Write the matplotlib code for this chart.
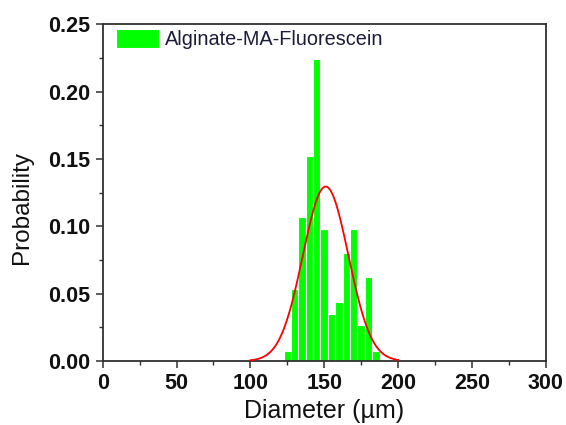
import numpy as np
import matplotlib
matplotlib.use("Agg")
import matplotlib.pyplot as plt
from matplotlib.ticker import MultipleLocator

# Histogram data (bin centers in µm, probability)
bin_centers = [125, 130, 135, 140, 145, 150, 155, 160, 165, 170, 175, 180, 185]
probability = [0.0077, 0.0532, 0.107, 0.152, 0.224, 0.0978, 0.0349,
               0.044, 0.080, 0.0978, 0.0267, 0.0626, 0.0077]
bin_width = 5

# Gaussian fit parameters
fit_mean = 151.0
fit_sigma = 15.4
fit_range = [100, 200]

series_label = "Alginate-MA-Fluorescein"
x_ticks = [0, 50, 100, 150, 200, 250, 300]
y_ticks = [0.00, 0.05, 0.10, 0.15, 0.20, 0.25]

plt.rcParams['font.family'] = ['Liberation Sans', 'DejaVu Sans']

fig = plt.figure(figsize=(5.66, 4.25), dpi=100)
ax = fig.add_axes([0.1815, 0.1506, 0.7825, 0.7922])

ax.bar(bin_centers, probability, width=bin_width, color='#00ff00',
       edgecolor='white', linewidth=0.8, label=series_label, zorder=2)

xf = np.linspace(fit_range[0], fit_range[1], 400)
amp = bin_width / (fit_sigma * np.sqrt(2 * np.pi))
yf = amp * np.exp(-(xf - fit_mean) ** 2 / (2 * fit_sigma ** 2))
ax.plot(xf, yf, color='red', linewidth=1.3, zorder=3)

ax.set_xlim(0, 300)
ax.set_ylim(0, 0.25)
ax.set_xticks(x_ticks)
ax.set_yticks(y_ticks)
ax.set_xticklabels([str(v) for v in x_ticks])
ax.set_yticklabels([f"{v:.2f}" for v in y_ticks])
ax.xaxis.set_minor_locator(MultipleLocator(25))
ax.yaxis.set_minor_locator(MultipleLocator(0.025))

ax.tick_params(which='major', direction='out', length=5, width=1.1,
               color='#303030', labelsize=15.5, pad=4)
ax.tick_params(which='minor', direction='out', length=3, width=1.0,
               color='#303030')
ax.tick_params(top=False, right=False, which='both')
for lab in ax.get_xticklabels() + ax.get_yticklabels():
    lab.set_fontweight('bold')
    lab.set_color('#111111')

for sp in ax.spines.values():
    sp.set_linewidth(1.3)
    sp.set_color('#303030')

ax.set_xlabel("Diameter (µm)", fontsize=18, color='#111111', labelpad=3)
ax.set_ylabel("Probability", fontsize=17.5, color='#111111')
ax.yaxis.set_label_coords(-0.158, 0.457)

leg = ax.legend(loc='upper left', bbox_to_anchor=(0.029, 0.985),
                frameon=False, fontsize=14.3, handlelength=2.2,
                handleheight=1.05, handletextpad=0.3, borderpad=0,
                borderaxespad=0)
for t in leg.get_texts():
    t.set_color('#1c1c3a')

fig.savefig("out.png", dpi=100)
